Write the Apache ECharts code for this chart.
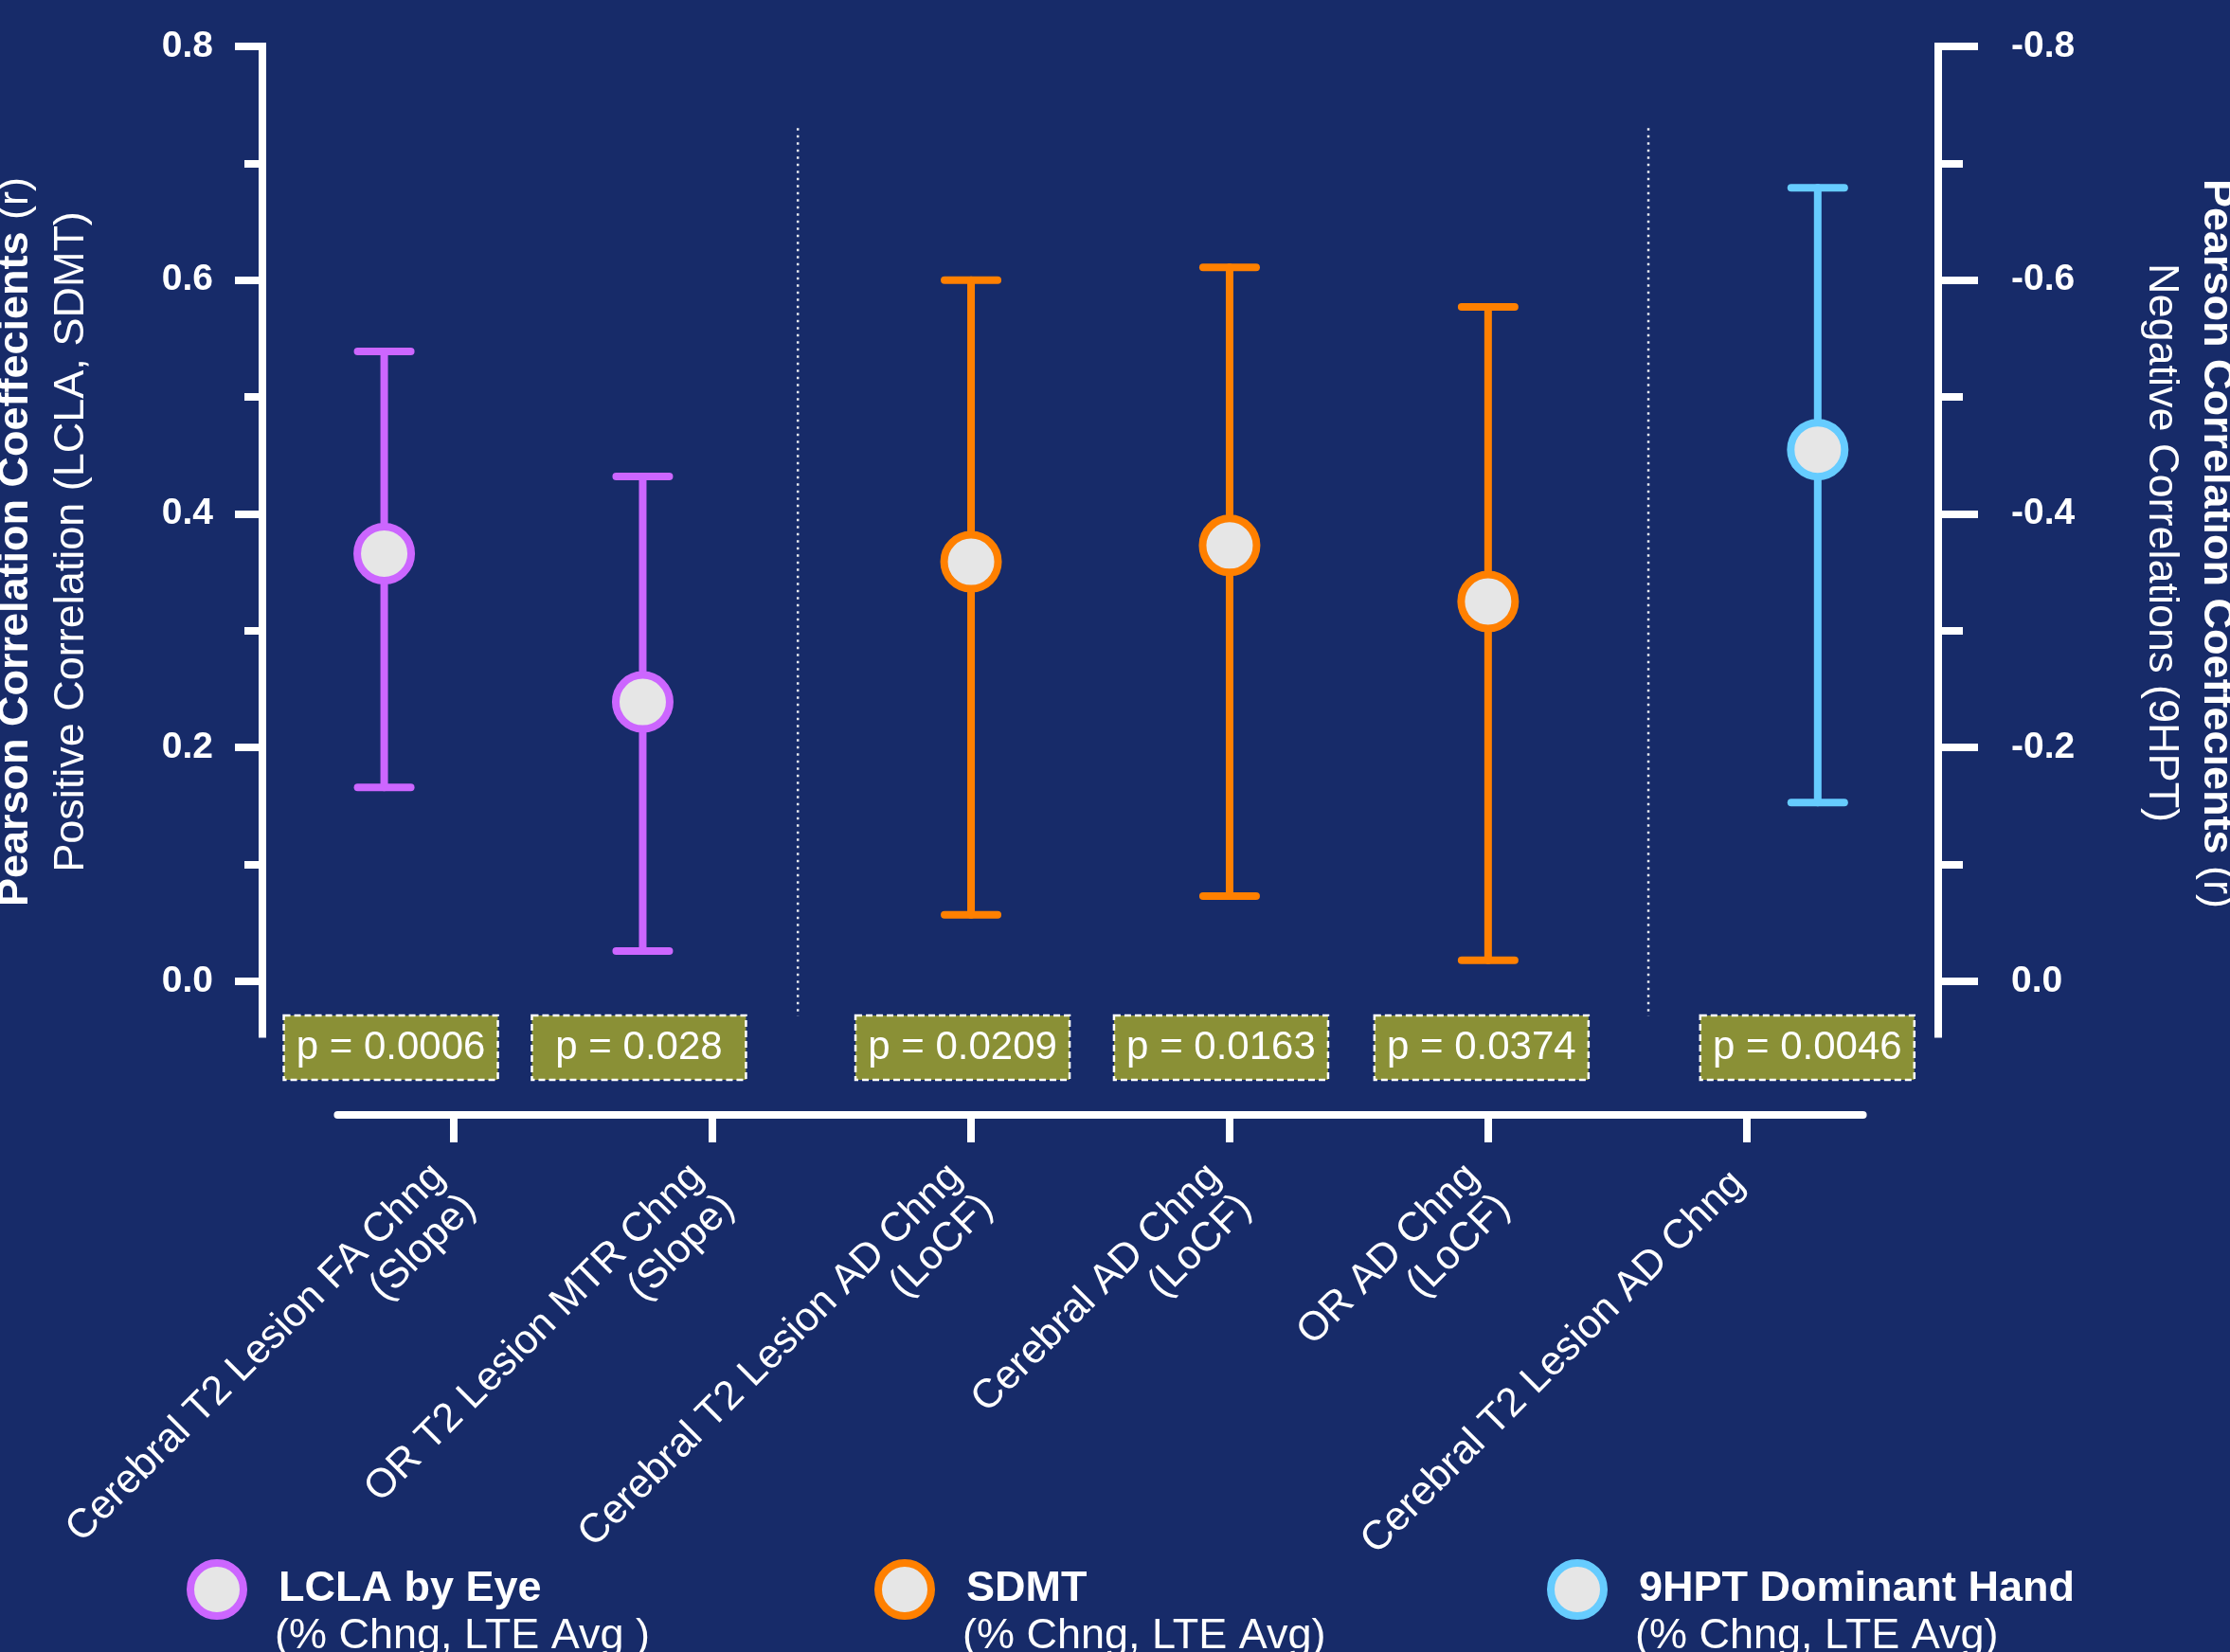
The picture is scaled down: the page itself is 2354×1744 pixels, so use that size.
<!DOCTYPE html>
<html>
<head>
<meta charset="utf-8">
<script src="https://cdn.jsdelivr.net/npm/echarts@6/dist/echarts.min.js"></script>
<style>
  html, body { margin: 0; padding: 0; background: #172b69; }
  #chart { width: 2354px; height: 1744px; }
</style>
</head>
<body>
<div id="chart"></div>
<script>
// ---- data ----
const categories = [
  'Cerebral T2 Lesion FA Chng\n(Slope)',
  'OR T2 Lesion MTR Chng\n(Slope)',
  'Cerebral T2 Lesion AD Chng\n(LoCF)',
  'Cerebral AD Chng\n(LoCF)',
  'OR AD Chng\n(LoCF)',
  'Cerebral T2 Lesion AD Chng'
];
// which outcome measure each imaging metric is correlated with
const measureOfRow = [0, 0, 1, 1, 1, 2];
const measures = ['LCLA by Eye', 'SDMT', '9HPT Dominant Hand'];
const measureNotes = ['(% Chng, LTE Avg )', '(% Chng, LTE Avg)', '(% Chng, LTE Avg)'];
// Pearson r with 95% CI (9HPT is a negative correlation, read on the right axis)
const rValues = [0.366, 0.239, 0.359, 0.373, 0.325, -0.455];
const ciLower = [0.166, 0.026, 0.057, 0.073, 0.018, -0.679];
const ciUpper = [0.539, 0.432, 0.600, 0.611, 0.577, -0.153];
const pValues = ['0.0006', '0.028', '0.0209', '0.0163', '0.0374', '0.0046'];
const leftTicks = [0, 0.2, 0.4, 0.6, 0.8];
const leftMinorTicks = [0.1, 0.3, 0.5, 0.7];
const rightTicks = [-0.8, -0.6, -0.4, -0.2, 0];
const rightMinorTicks = [-0.7, -0.5, -0.3, -0.1];
const dividers = [1.33, 4.62];

// ---- styling ----
const WHITE = '#ffffff';
const colors = ['#cc66ff', '#ff8000', '#66ccff'];
const FILL = '#e6e6e6';
const BOX = '#8a9036';
const groupOffset = [-0.27, 0, 0.275];
const pBoxNudge = [7, -4, -9, -9, -7, -11]; // horizontal pixel nudge of each p-value box
const TEXT_FONT = 'Liberation Sans';
const CAP_HALF = 28;

const chart = echarts.init(document.getElementById('chart'), null, { renderer: 'canvas' });

function rowsOf(g) {
  const out = [];
  measureOfRow.forEach((m, i) => { if (m === g) out.push(i); });
  return out;
}

function errorBar(color) {
  return function (params, api) {
    const x = api.value(0);
    const lo = api.coord([x, api.value(1)]);
    const hi = api.coord([x, api.value(2)]);
    const st = { stroke: color, lineWidth: 8, lineCap: 'round', fill: null };
    return {
      type: 'group',
      children: [
        { type: 'line', shape: { x1: lo[0], y1: lo[1], x2: hi[0], y2: hi[1] }, style: st },
        { type: 'line', shape: { x1: hi[0] - CAP_HALF, y1: hi[1], x2: hi[0] + CAP_HALF, y2: hi[1] }, style: st },
        { type: 'line', shape: { x1: lo[0] - CAP_HALF, y1: lo[1], x2: lo[0] + CAP_HALF, y2: lo[1] }, style: st }
      ]
    };
  };
}

const series = [];

// vertical dotted separators between outcome groups
series.push({
  type: 'custom',
  xAxisIndex: 0, yAxisIndex: 0, z: 1, silent: true,
  data: dividers.map(x => [x, 0]),
  renderItem: function (params, api) {
    const x = api.value(0);
    const a = api.coord([x, 0.73]);
    const b = api.coord([x, -0.03]);
    return {
      type: 'line',
      shape: { x1: a[0], y1: a[1], x2: b[0], y2: b[1] },
      style: { stroke: 'rgba(255,255,255,0.9)', lineWidth: 2.5, lineDash: [2.5, 5] }
    };
  }
});

measures.forEach((m, g) => {
  const rows = rowsOf(g);
  const yIdx = g === 2 ? 2 : 0;
  series.push({
    type: 'custom',
    xAxisIndex: 0, yAxisIndex: yIdx, z: 2, silent: true,
    encode: { x: 0, y: [1, 2] },
    data: rows.map(i => [i + groupOffset[g], ciLower[i], ciUpper[i]]),
    renderItem: errorBar(colors[g])
  });
  series.push({
    type: 'scatter',
    name: m,
    xAxisIndex: 0, yAxisIndex: yIdx, z: 3,
    symbol: 'circle',
    symbolSize: 57,
    itemStyle: { color: FILL, borderColor: colors[g], borderWidth: 8, opacity: 1 },
    data: rows.map(i => [i + groupOffset[g], rValues[i]])
  });
});

// p-value boxes under each estimate
series.push({
  type: 'custom',
  xAxisIndex: 0, yAxisIndex: 0, z: 4, silent: true,
  data: pValues.map((p, i) => [i + groupOffset[measureOfRow[i]], 0]),
  renderItem: function (params, api) {
    const base = api.coord([api.value(0), 0]);
    const cx = base[0] + pBoxNudge[params.dataIndex];
    const cy = base[1] + 70;
    return {
      type: 'group',
      children: [
        {
          type: 'rect',
          shape: { x: cx - 113, y: cy - 34, width: 226, height: 68 },
          style: { fill: BOX, stroke: WHITE, lineWidth: 2.5, lineDash: [7, 4] }
        },
        {
          type: 'text',
          x: cx, y: cy,
          style: {
            text: 'p = ' + pValues[params.dataIndex],
            align: 'center', verticalAlign: 'middle',
            fill: WHITE, fontFamily: TEXT_FONT, fontSize: 42
          }
        }
      ]
    };
  }
});

const tickLine = { color: WHITE, width: 8 };
const tickLabel = { color: WHITE, fontFamily: TEXT_FONT, fontWeight: 'bold', fontSize: 39 };

const legends = measures.map((m, g) => {
  const cx = [225, 951, 1661][g];
  return {
    left: cx - 28, top: 1646, padding: 0,
    itemWidth: 56, itemHeight: 56,
    selectedMode: false,
    formatter: '{t|{name}}',
    textStyle: {
      rich: {
        t: { padding: [0, 0, 0, 32], fontFamily: TEXT_FONT, fontSize: 45, fontWeight: 'bold', color: WHITE }
      }
    },
    data: [{ name: m, icon: 'circle', itemStyle: { color: FILL, borderColor: colors[g], borderWidth: 8 } }]
  };
});

const titleRich = {
  b: { fontFamily: TEXT_FONT, fontSize: 45, fontWeight: 'bold', fill: WHITE },
  n: { fontFamily: TEXT_FONT, fontSize: 45, fill: WHITE }
};

const graphics = [
  {
    type: 'text', x: 17, y: 572, rotation: Math.PI / 2,
    style: {
      text: '{b|Pearson Correlation Coeffecients} {n|(r)}',
      align: 'center', verticalAlign: 'middle',
      fill: WHITE, fontFamily: TEXT_FONT, fontSize: 45, rich: titleRich
    }
  },
  {
    type: 'text', x: 76, y: 572, rotation: Math.PI / 2,
    style: {
      text: 'Positive Correlation (LCLA, SDMT)',
      align: 'center', verticalAlign: 'middle',
      fill: WHITE, fontFamily: TEXT_FONT, fontSize: 45
    }
  },
  {
    type: 'text', x: 2339, y: 574, rotation: -Math.PI / 2,
    style: {
      text: '{b|Pearson Correlation Coeffecients} {n|(r)}',
      align: 'center', verticalAlign: 'middle',
      fill: WHITE, fontFamily: TEXT_FONT, fontSize: 45, rich: titleRich
    }
  },
  {
    type: 'text', x: 2281, y: 573, rotation: -Math.PI / 2,
    style: {
      text: 'Negative Correlations (9HPT)',
      align: 'center', verticalAlign: 'middle',
      fill: WHITE, fontFamily: TEXT_FONT, fontSize: 45
    }
  }
].concat(measureNotes.map((note, g) => ({
  type: 'text', x: [225, 951, 1661][g] + 65, y: 1728,
  style: {
    text: note, align: 'left', verticalAlign: 'middle',
    fill: WHITE, fontFamily: TEXT_FONT, fontSize: 45
  }
})));

const option = {
  animation: false,
  backgroundColor: '#172b69',
  grid: [
    { left: 277, right: 308, top: 49, bottom: 652.5, containLabel: false, outerBoundsMode: 'none' },
    { left: 356.44, right: 387.44, top: 1100, bottom: 567, containLabel: false, outerBoundsMode: 'none' }
  ],
  xAxis: [
    { gridIndex: 0, type: 'value', min: -0.7411, max: 5.7411, show: false },
    {
      gridIndex: 1, type: 'value', min: -0.45, max: 5.45, position: 'bottom',
      axisLine: { show: true, onZero: false, lineStyle: { color: WHITE, width: 8 } },
      axisTick: { show: true, customValues: [0, 1, 2, 3, 4, 5], length: 29, lineStyle: tickLine },
      axisLabel: {
        show: true, customValues: [0, 1, 2, 3, 4, 5],
        formatter: v => {
          const s = categories[Math.round(v)];
          // single-line names sit a little higher, next to the first line of the others
          return s.indexOf('\n') < 0 ? '{s|' + s + '}' : s;
        },
        rotate: 45, margin: 75, color: WHITE,
        fontFamily: TEXT_FONT, fontSize: 43, lineHeight: 46,
        rich: {
          s: { padding: [0, 0, 25, 0], color: WHITE, fontFamily: TEXT_FONT, fontSize: 43, lineHeight: 46 }
        }
      },
      splitLine: { show: false }
    }
  ],
  yAxis: [
    {
      gridIndex: 0, type: 'value', position: 'left', min: -0.045, max: 0.8,
      axisLine: { show: true, onZero: false, lineStyle: { color: WHITE, width: 8, cap: 'square' } },
      axisTick: { show: true, customValues: leftTicks, length: 29, lineStyle: tickLine },
      axisLabel: Object.assign({
        show: true, customValues: leftTicks, formatter: v => v.toFixed(1), margin: 52
      }, tickLabel),
      splitLine: { show: false }
    },
    {
      gridIndex: 0, type: 'value', position: 'left', min: -0.045, max: 0.8,
      axisLine: { show: false, onZero: false },
      axisTick: { show: true, customValues: leftMinorTicks, length: 19, lineStyle: tickLine },
      axisLabel: { show: false },
      splitLine: { show: false }
    },
    {
      gridIndex: 0, type: 'value', position: 'right', inverse: true, min: -0.8, max: 0.045,
      axisLine: { show: true, onZero: false, lineStyle: { color: WHITE, width: 8, cap: 'square' } },
      axisTick: { show: true, customValues: rightTicks, length: 42, lineStyle: tickLine },
      axisLabel: Object.assign({
        show: true, customValues: rightTicks,
        formatter: v => (Math.abs(v) < 1e-9 ? '0.0' : v.toFixed(1)),
        margin: 77
      }, tickLabel),
      splitLine: { show: false }
    },
    {
      gridIndex: 0, type: 'value', position: 'right', inverse: true, min: -0.8, max: 0.045,
      axisLine: { show: false, onZero: false },
      axisTick: { show: true, customValues: rightMinorTicks, length: 26, lineStyle: tickLine },
      axisLabel: { show: false },
      splitLine: { show: false }
    },
    { gridIndex: 1, type: 'value', min: 0, max: 1, show: false }
  ],
  legend: legends,
  graphic: graphics,
  series: series
};

chart.setOption(option);
</script>
</body>
</html>
